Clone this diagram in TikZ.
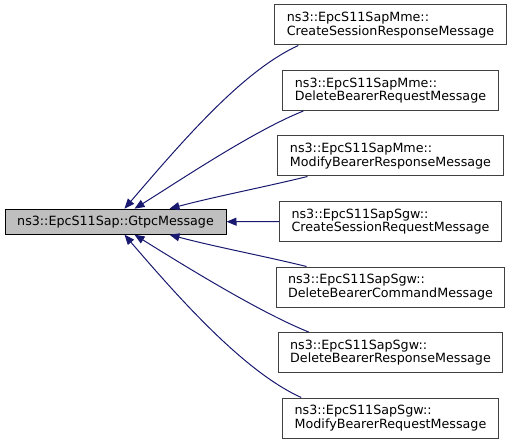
\documentclass[tikz,border=0pt]{standalone}
\usepackage{fontspec}
\setmainfont{DejaVu Sans}
\usetikzlibrary{positioning,arrows.meta}

\definecolor{edgeblue}{RGB}{25,25,112}
\definecolor{basegray}{RGB}{191,191,191}
\definecolor{boxgray}{RGB}{64,64,64}

\begin{document}
\begin{tikzpicture}[
    x=1pt, y=-1pt,
    every node/.style={font=\fontsize{12.7}{13.3}\selectfont},
    node distance=24.5pt,
    baseclass/.style={
      % the class itself, grey filled
      rectangle,
      draw=black,
      fill=basegray,
      line width=1pt,
      minimum width=221pt,
      minimum height=25pt,
      inner sep=0pt,
    },
    derived/.style={
      % a class derived from it
      rectangle,
      draw=boxgray,
      fill=white,
      line width=1pt,
      align=left,
      minimum height=40pt,
      inner xsep=12pt,
      inner ysep=3pt,
    },
    inherit/.style={
      edgeblue,
      line width=1pt,
      -{Triangle[length=10pt,width=8pt]},
    }]

  \useasboundingbox (0,0) rectangle (515,444);

  \node[baseclass] (gtpc) at (115.5,221.7) {ns3::EpcS11Sap::GtpcMessage};

  \node[derived] (mmecreate) at (390.5,25) {ns3::EpcS11SapMme::\\CreateSessionResponseMessage};
  \node[derived] (mmedelete) [below=of mmecreate] {ns3::EpcS11SapMme::\\DeleteBearerRequestMessage};
  \node[derived] (mmemodify) [below=of mmedelete] {ns3::EpcS11SapMme::\\ModifyBearerResponseMessage};
  \node[derived] (sgwcreate) [below=of mmemodify] {ns3::EpcS11SapSgw::\\CreateSessionRequestMessage};
  \node[derived] (sgwdelcmd) [below=of sgwcreate] {ns3::EpcS11SapSgw::\\DeleteBearerCommandMessage};
  \node[derived] (sgwdelresp) [below=of sgwdelcmd] {ns3::EpcS11SapSgw::\\DeleteBearerResponseMessage};
  \node[derived] (sgwmodify) [below=of sgwdelresp] {ns3::EpcS11SapSgw::\\ModifyBearerRequestMessage};

  % upper edges land on the top side
  \draw[inherit] ([xshift=24pt]mmecreate.south west)
        .. controls +(-55,25) and +(60,-70) .. ([xshift=120pt]gtpc.north west);
  \draw[inherit] ([xshift=21pt]mmedelete.south west)
        .. controls +(-50,20) and +(45,-28) .. ([xshift=130pt]gtpc.north west);
  \draw[inherit] ([xshift=30pt]mmemodify.south west)
        .. controls +(-45,11) and +(45,-12) .. ([xshift=165pt]gtpc.north west);
  % the straight one
  \draw[inherit] (sgwcreate.west) -- (gtpc.east);
  % lower edges land on the bottom side
  \draw[inherit] ([xshift=31pt]sgwdelcmd.north west)
        .. controls +(-45,-11) and +(45,12) .. ([xshift=165pt]gtpc.south west);
  \draw[inherit] ([xshift=31pt]sgwdelresp.north west)
        .. controls +(-50,-20) and +(45,28) .. ([xshift=130pt]gtpc.south west);
  \draw[inherit] ([xshift=19pt]sgwmodify.north west)
        .. controls +(-55,-25) and +(60,70) .. ([xshift=120pt]gtpc.south west);
\end{tikzpicture}
\end{document}
